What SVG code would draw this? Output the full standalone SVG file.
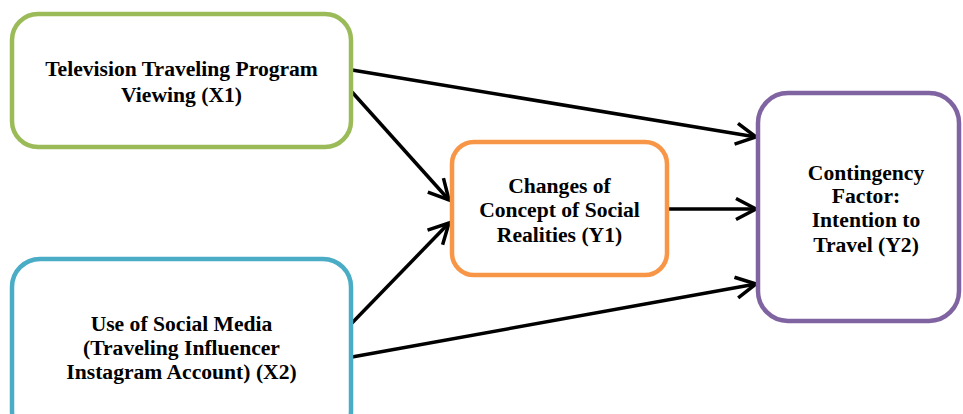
<svg xmlns="http://www.w3.org/2000/svg" width="963" height="414" viewBox="0 0 963 414">
<defs>
<style>
.box{fill:#fff;stroke-width:4.5}
.t{font-family:"Liberation Serif","Times New Roman",serif;font-weight:bold;font-size:21.6px;fill:#000;text-anchor:middle}
.c{stroke:#000;stroke-width:3.5;fill:none}
</style>
<marker id="ah" markerUnits="userSpaceOnUse" markerWidth="30" markerHeight="30" refX="23" refY="12" orient="auto">
<path d="M3,1.5 L23,12 L3,22.5" fill="none" stroke="#000" stroke-width="3.5"/>
</marker>
</defs>
<rect width="963" height="414" fill="#fff"/>
<g id="connectors">
<line class="c" x1="352" y1="70" x2="756" y2="137" marker-end="url(#ah)"/>
<line class="c" x1="352" y1="92" x2="449" y2="200" marker-end="url(#ah)"/>
<line class="c" x1="352" y1="323" x2="449" y2="223" marker-end="url(#ah)"/>
<line class="c" x1="352" y1="357" x2="756" y2="284" marker-end="url(#ah)"/>
<line class="c" x1="668" y1="209" x2="756" y2="209" marker-end="url(#ah)"/>
</g>
<g id="x1">
<rect class="box" x="12" y="14" width="339" height="133" rx="26" stroke="#9BBB59"/>
<text class="t"><tspan x="181.5" y="76">Television Traveling Program</tspan><tspan x="181.5" y="101.5">Viewing (X1)</tspan></text>
</g>
<g id="x2">
<rect class="box" x="12" y="259" width="339" height="180" rx="28" stroke="#4BACC6"/>
<text class="t"><tspan x="181.5" y="331">Use of Social Media</tspan><tspan x="181.5" y="355">(Traveling Influencer</tspan><tspan x="181.5" y="379">Instagram Account) (X2)</tspan></text>
</g>
<g id="y1">
<rect class="box" x="452" y="142" width="215" height="133" rx="22" stroke="#F79646"/>
<text class="t"><tspan x="559.5" y="193">Changes of</tspan><tspan x="559.5" y="217">Concept of Social</tspan><tspan x="559.5" y="241.5">Realities (Y1)</tspan></text>
</g>
<g id="y2">
<rect class="box" x="758" y="93" width="201" height="228" rx="30" stroke="#8064A2"/>
<text class="t"><tspan x="866" y="180">Contingency</tspan><tspan x="866" y="203">Factor:</tspan><tspan x="866" y="227">Intention to</tspan><tspan x="866" y="251.5">Travel (Y2)</tspan></text>
</g>
</svg>
